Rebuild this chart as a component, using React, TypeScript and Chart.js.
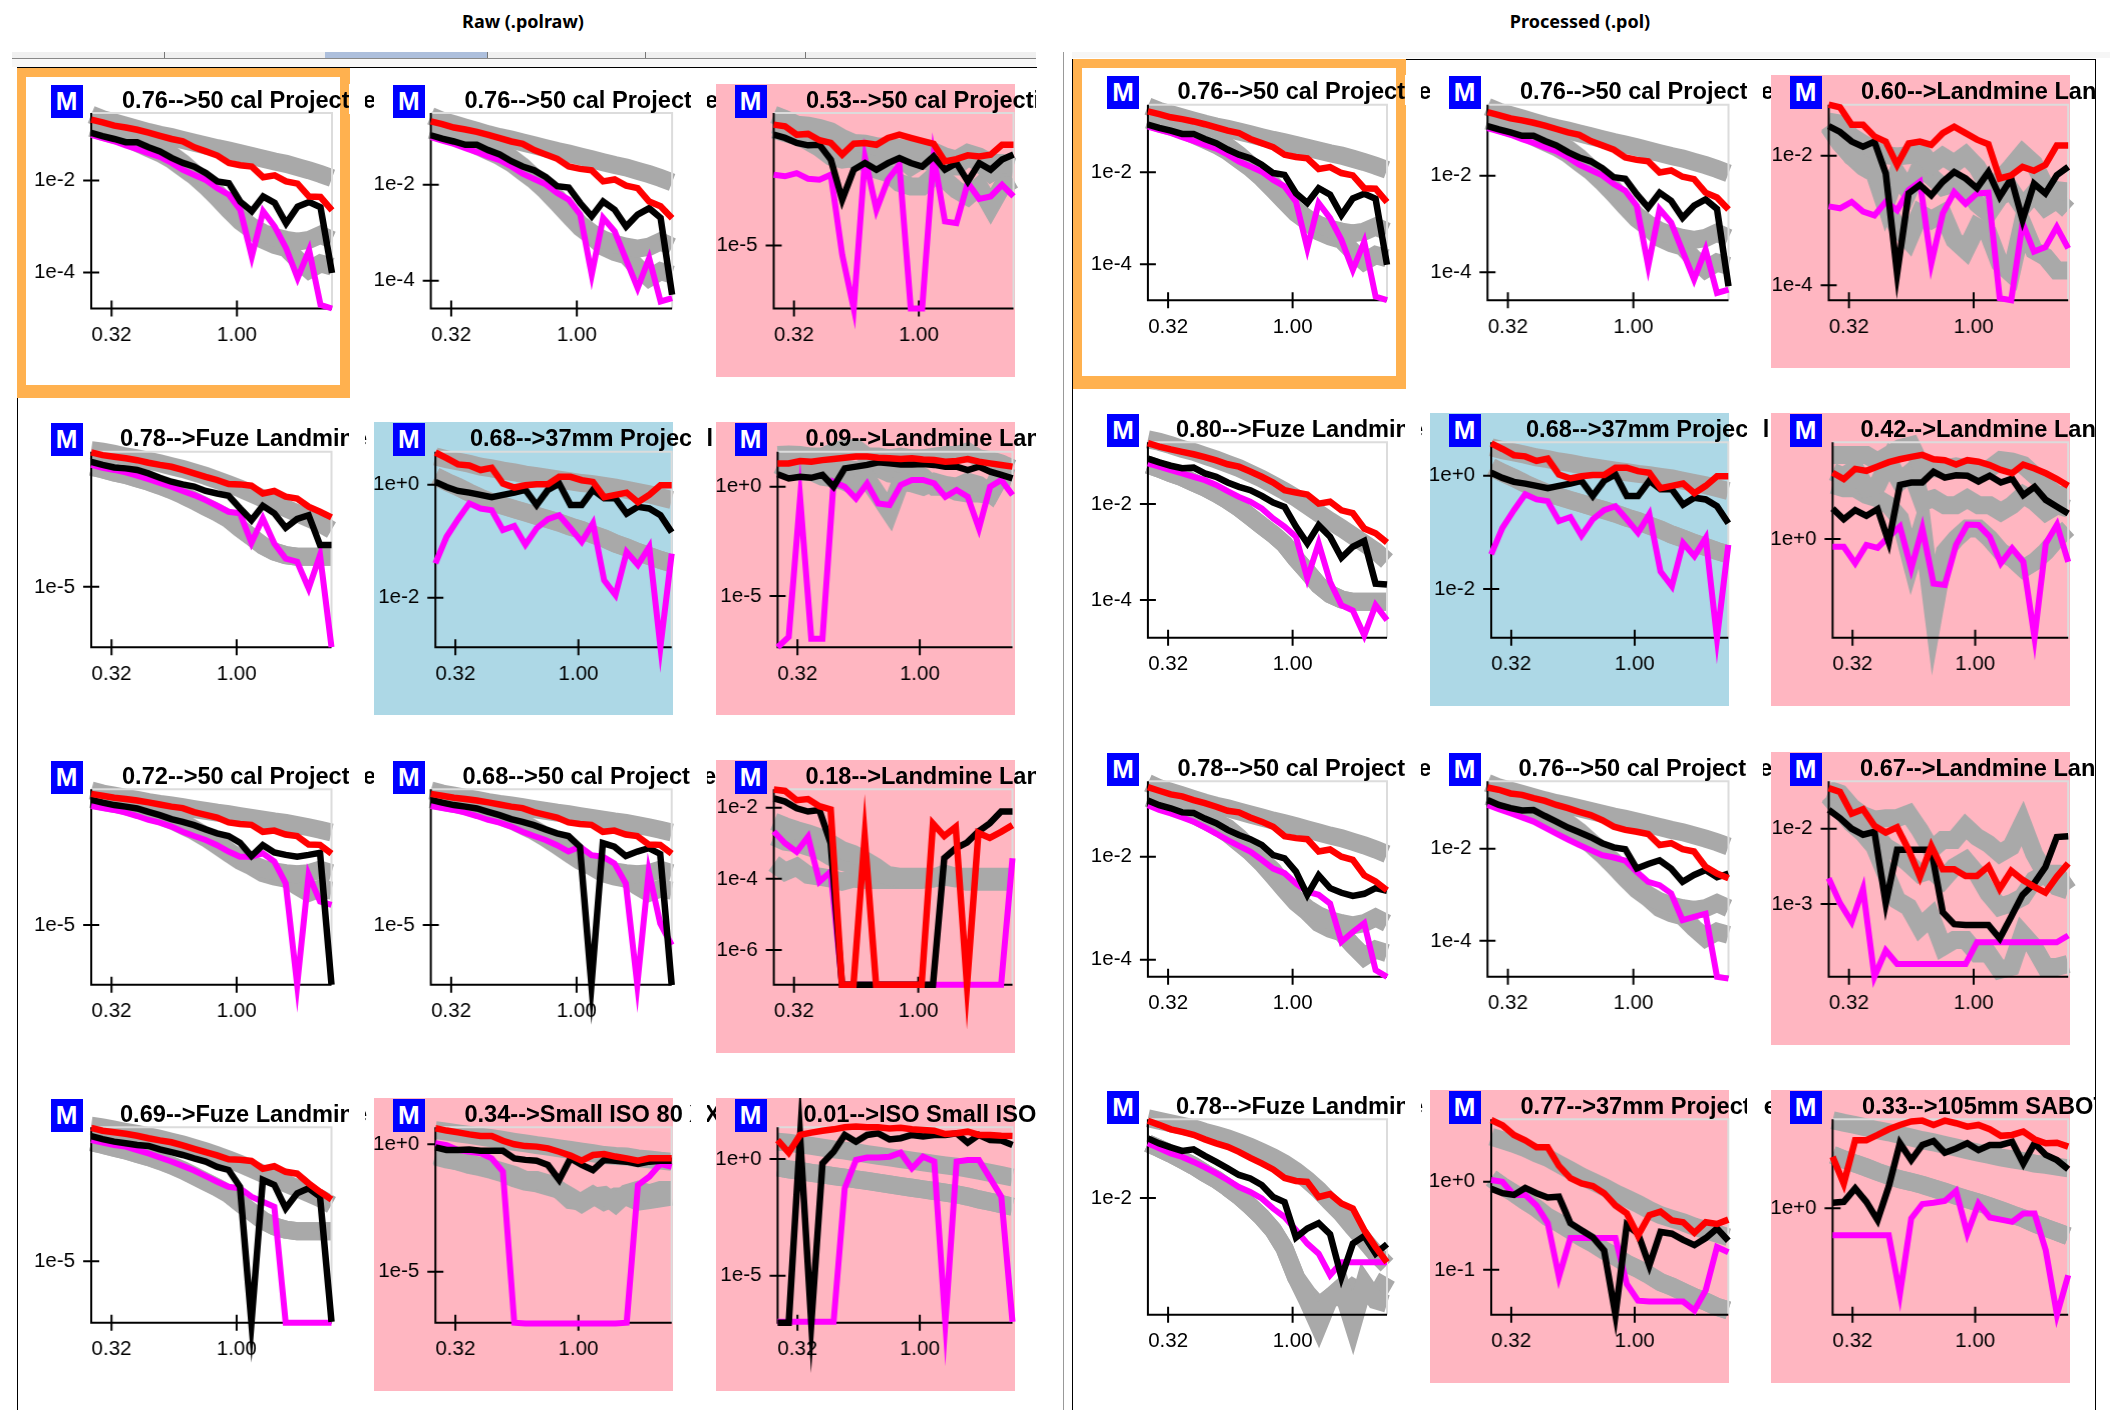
import React, { useEffect, useRef } from "react";
import { Chart, registerables } from "chart.js";
Chart.register(...registerables);

const FREQS = [0.266,0.295,0.328,0.364,0.404,0.448,0.497,0.552,0.612,0.679,0.754,0.837,0.929,1.031,1.144,1.269,1.409,1.563,1.735,1.926,2.137,2.372];

// All series are log10 of the plotted value
const GU50 = [-.57,-.67,-.74,-.81,-.88,-.95,-1.01,-1.06,-1.12,-1.18,-1.24,-1.30,-1.35,-1.41,-1.47,-1.53,-1.59,-1.64,-1.71,-1.78,-1.86,-1.95];
const GA50 = [-.83,-.88,-.96,-1.04,-1.12,-1.22,-1.33,-1.44,-1.62,-1.84,-2.06,-2.27,-2.56,-2.82,-3.0,-3.14,-3.23,-3.29,-3.33,-3.29,-3.18,-3.29];
const GB50 = [-.86,-.94,-1.01,-1.08,-1.19,-1.30,-1.41,-1.55,-1.73,-1.91,-2.13,-2.38,-2.64,-2.89,-3.07,-3.29,-3.40,-3.47,-3.72,-3.94,-3.80,-3.87];
const GUF = [-.65,-.70,-.77,-.85,-.91,-.99,-1.07,-1.16,-1.25,-1.36,-1.47,-1.60,-1.73,-1.87,-2.03,-2.19,-2.35,-2.50,-2.66,-2.82,-2.98,-3.19];
const GLF = [-1.18,-1.26,-1.36,-1.44,-1.55,-1.655,-1.78,-1.92,-2.08,-2.26,-2.45,-2.63,-2.84,-3.14,-3.41,-3.69,-3.88,-3.99,-4.04,-4.04,-4.04,-4.04];
const GU37 = [.50,.45,.41,.37,.32,.29,.25,.22,.18,.15,.12,.09,.06,.03,.01,-.02,-.05,-.09,-.13,-.17,-.22,-.27];
const GL37 = [.15,.05,-.04,-.14,-.23,-.31,-.37,-.43,-.49,-.55,-.61,-.67,-.74,-.80,-.88,-.95,-1.04,-1.11,-1.19,-1.26,-1.33,-1.39];

const L1R = [-.68,-.74,-.81,-.85,-.90,-.96,-1.03,-1.10,-1.15,-1.28,-1.37,-1.46,-1.62,-1.67,-1.70,-1.93,-1.89,-2.02,-2.07,-2.35,-2.36,-2.65];
const L1K = [-.97,-1.04,-1.10,-1.17,-1.17,-1.28,-1.37,-1.51,-1.62,-1.70,-1.84,-2.02,-2.06,-2.46,-2.67,-2.35,-2.49,-2.93,-2.57,-2.47,-2.58,-4.01];
const L1M = [-1.01,-1.08,-1.15,-1.24,-1.32,-1.41,-1.49,-1.62,-1.77,-1.88,-1.99,-2.17,-2.31,-2.64,-3.65,-2.67,-3.0,-3.47,-4.12,-3.51,-4.70,-4.78];
const L2R = [-.68,-.74,-.81,-.85,-.90,-.96,-1.03,-1.10,-1.15,-1.28,-1.37,-1.46,-1.62,-1.67,-1.70,-1.93,-1.89,-2.02,-2.07,-2.35,-2.45,-2.70];
const L2K = [-.97,-1.04,-1.10,-1.17,-1.17,-1.28,-1.37,-1.51,-1.62,-1.70,-1.84,-2.03,-2.06,-2.38,-2.66,-2.35,-2.52,-2.87,-2.62,-2.49,-2.69,-4.29];
const L2M = [-1.01,-1.08,-1.15,-1.24,-1.32,-1.41,-1.49,-1.62,-1.77,-1.88,-1.99,-2.17,-2.31,-2.62,-3.87,-2.69,-2.97,-3.56,-4.15,-3.53,-4.43,-4.36];
const L3R = [-.44,-.50,-.82,-.79,-1.03,-1.13,-1.57,-1.16,-1.13,-1.20,-.94,-.82,-.94,-1.05,-1.16,-1.83,-1.74,-1.60,-1.64,-1.57,-1.20,-1.20];
const L3K = [-.82,-.94,-1.13,-1.22,-1.20,-1.76,-3.27,-2.14,-1.89,-2.14,-1.89,-1.70,-1.89,-2.02,-1.64,-2.14,-1.89,-2.58,-1.89,-2.14,-1.76,-1.57];
const L3M = [-2.33,-2.39,-2.27,-2.48,-2.52,-2.33,-5.35,-7.38,-1.70,-3.65,-2.52,-1.95,-7.38,-7.38,-1.64,-4.09,-4.16,-2.64,-3.24,-3.15,-2.71,-3.15];
const L3GU = [-.06,-.23,-.44,-.48,-.57,-.69,-.94,-1.13,-1.16,-1.26,-1.26,-1.32,-1.39,-1.36,-1.45,-1.64,-1.76,-1.51,-1.64,-1.89,-1.89,-2.02];
const L3GA = [-.44,-.57,-.69,-.88,-1.01,-1.26,-1.51,-1.76,-1.64,-1.89,-1.64,-1.64,-2.02,-1.76,-1.89,-2.02,-2.02,-1.64,-1.89,-2.27,-2.02,-2.08];
const L3GB = [-.63,-.76,-.88,-1.07,-1.32,-1.64,-1.76,-1.70,-1.89,-2.14,-2.27,-2.64,-2.77,-2.77,-2.39,-2.52,-2.90,-3.15,-2.77,-3.53,-2.77,-2.52];
const L4R = [-.72,-.81,-.86,-.91,-.97,-1.05,-1.12,-1.18,-1.28,-1.39,-1.50,-1.60,-1.73,-1.74,-1.78,-2.03,-1.95,-2.13,-2.19,-2.45,-2.61,-2.79];
const L4K = [-1.02,-1.12,-1.20,-1.23,-1.28,-1.39,-1.53,-1.655,-1.74,-1.81,-1.95,-2.03,-2.10,-2.50,-2.88,-2.42,-2.66,-3.12,-2.84,-2.72,-3.67,-3.67];
const L4M = [-1.12,-1.21,-1.28,-1.36,-1.46,-1.57,-1.69,-1.81,-1.95,-2.08,-2.24,-2.42,-2.61,-2.66,-3.60,-2.82,-3.62,-4.10,-4.20,-5.05,-3.99,-6.92];
const L5R = [.57,.47,.36,.34,.26,.30,.02,-.05,-.01,.01,.01,.14,.14,.08,.05,-.22,-.18,-.14,-.31,-.18,-.01,-.01];
const L5K = [.05,-.04,-.11,-.14,-.18,-.22,-.18,-.14,-.09,-.36,-.09,.02,-.36,-.36,-.09,-.24,-.24,-.51,-.39,-.42,-.54,-.84];
const L5M = [-1.39,-.92,-.61,-.33,-.42,-.45,-.80,-.73,-1.06,-.77,-.61,-.54,-.77,-1.01,-.68,-1.69,-1.95,-1.19,-1.42,-1.10,-2.87,-1.22];
const L6R = [1.07,1.07,1.18,1.15,1.22,1.27,1.33,1.38,1.38,1.33,1.30,1.27,1.30,1.25,1.22,1.15,1.18,1.27,1.15,1.07,1.00,.92];
const L6K = [.57,.38,.46,.41,.54,0,.84,.92,1.0,1.12,1.07,1.02,1.02,1.04,1.0,.92,.92,.76,.92,.69,.54,.38];
const L6M = [-7.35,-6.88,-.5,-6.96,-6.96,.23,0,-.54,.15,-.77,-.84,.08,.31,.31,.15,-.46,-.15,-.46,-1.91,0,.31,-.38];
const L6GU = [1.45,1.48,1.45,1.38,1.38,1.61,1.76,1.76,1.38,1.38,1.30,1.38,1.30,1.30,1.38,1.45,1.45,1.61,1.30,1.22,1.07,.84];
const L6GA = [1.0,.76,.69,.69,.46,.38,.23,0,.38,-.38,-1.15,.23,.15,0,.23,.08,0,.23,.08,-.31,.76,.69];
const L6GB = [.84,.84,.92,.84,.84,.69,.84,.76,.76,.84,.61,.54,.69,.46,0,0,-.23,-.31,-.31,-.38,.54,.38];
const L7K = [-.88,-.97,-1.05,-1.10,-1.16,-1.27,-1.38,-1.51,-1.60,-1.71,-1.85,-1.98,-2.07,-2.29,-2.73,-2.37,-2.61,-2.69,-2.75,-2.69,-2.62,-6.97];
const L7M = [-1.08,-1.15,-1.21,-1.30,-1.41,-1.54,-1.63,-1.76,-1.93,-2.07,-2.20,-2.37,-2.58,-2.75,-2.75,-2.64,-2.91,-3.63,-6.97,-3.35,-4.23,-4.34];
const L8K = [-.88,-.97,-1.05,-1.10,-1.16,-1.27,-1.38,-1.51,-1.60,-1.71,-1.85,-1.98,-2.07,-2.42,-6.97,-2.30,-2.42,-2.73,-2.58,-2.47,-2.66,-6.98];
const L8M = [-1.08,-1.15,-1.21,-1.30,-1.41,-1.54,-1.63,-1.76,-1.93,-2.07,-2.20,-2.37,-2.58,-2.42,-2.70,-2.75,-2.97,-3.63,-6.97,-3.24,-4.95,-5.66];
const L9R = [-1.49,-1.53,-1.79,-1.76,-1.96,-2.05,-6.975,-6.975,-2.82,-6.975,-6.975,-6.975,-6.975,-6.975,-2.45,-2.80,-2.54,-6.975,-2.71,-2.85,-2.68,-2.49];
const L9K = [-1.74,-1.83,-2.02,-2.11,-2.07,-3.00,-6.975,-6.975,-6.975,-6.975,-6.975,-6.975,-6.975,-6.975,-6.975,-3.42,-3.14,-2.98,-2.67,-2.44,-2.11,-2.11];
const L9M = [-2.67,-3.00,-3.24,-2.82,-4.08,-3.80,-6.975,-6.975,-6.975,-6.975,-6.975,-6.975,-6.975,-6.975,-6.975,-6.975,-6.975,-6.975,-6.975,-6.975,-6.975,-3.42];
const L9GU = [-2.39,-2.52,-2.63,-2.72,-2.83,-3.0,-3.19,-3.30,-3.47,-3.66,-3.89,-3.94,-3.94,-3.94,-3.94,-3.94,-3.94,-3.94,-3.94,-3.94,-3.94,-3.94];
const L9GA = [-2.82,-2.96,-3.0,-3.10,-3.19,-3.38,-3.52,-3.61,-3.61,-3.75,-3.94,-3.99,-3.99,-3.99,-3.99,-3.94,-3.99,-3.99,-3.99,-3.99,-3.99,-3.99];
const L9GB = [-3.57,-3.80,-3.66,-3.89,-3.94,-3.99,-4.08,-3.99,-4.03,-4.03,-4.03,-4.03,-4.03,-4.03,-3.99,-3.85,-3.94,-4.08,-4.08,-4.08,-4.08,-4.08];
const L10R = [-.72,-.81,-.86,-.91,-.97,-1.05,-1.12,-1.18,-1.28,-1.39,-1.50,-1.60,-1.73,-1.74,-1.78,-2.03,-1.95,-2.13,-2.19,-2.50,-2.77,-3.02];
const L10K = [-.98,-1.08,-1.16,-1.21,-1.27,-1.30,-1.41,-1.50,-1.59,-1.70,-1.80,-1.97,-2.07,-2.61,-6.98,-2.39,-2.55,-3.30,-2.82,-2.66,-2.93,-6.95];
const L10M = [-1.11,-1.19,-1.27,-1.32,-1.43,-1.54,-1.67,-1.80,-1.94,-2.09,-2.27,-2.45,-2.61,-2.66,-2.93,-3.09,-3.25,-6.98,-6.98,-6.98,-6.98,-6.98];
const L11R = [.63,.54,.47,.39,.33,.33,.14,0,-.07,-.09,-.16,-.29,-.44,-.64,-.42,-.38,-.48,-.55,-.64,-.55,-.55,-.55];
const L11K = [-.12,-.22,-.22,-.20,-.25,-.25,-.25,-.55,-.61,-.64,-.81,-1.40,-.55,-.81,-1.01,-.61,-.64,-.68,-.77,-.68,-.64,-.64];
const L11M = [.04,-.03,-.22,-.29,-.35,-.55,-1.07,-7.0,-7.03,-7.03,-7.03,-7.03,-7.03,-7.03,-7.03,-7.03,-7.03,-7.0,-1.60,-1.27,-.77,-.88];
const L11GU = [.56,.50,.43,.37,.30,.24,.17,.10,.04,-.03,-.09,-.16,-.22,-.29,-.35,-.42,-.46,-.48,-.55,-.59,-.64,-.68];
const L11GA = [-.48,-.59,-.67,-.75,-.85,-.94,-1.07,-1.20,-1.40,-1.40,-1.53,-1.79,-2.05,-2.32,-2.05,-1.99,-2.32,-1.92,-1.79,-1.92,-1.79,-1.79];
const L11GB = [-.42,-.55,-.68,-.81,-.90,-1.01,-1.14,-1.33,-1.47,-1.53,-1.66,-1.79,-2.19,-2.25,-1.99,-2.25,-2.05,-2.05,-2.25,-2.19,-2.12,-2.05];
const L12R = [.81,.27,1.03,1.13,1.21,1.27,1.36,1.39,1.36,1.36,1.31,1.34,1.27,1.24,1.21,1.07,1.10,1.17,1.03,1.03,1.00,.99];
const L12K = [-7.01,-7.01,.96,-7.01,-.19,.31,1.03,.74,1.03,1.10,.84,.89,1.03,.96,1.03,1.03,1.10,.70,1.03,.81,.79,.60];
const L12M = [-6.97,-6.97,-6.97,-6.97,-6.97,-6.97,-1.26,-.04,.06,.06,.10,.27,-.40,.10,-.11,-7.01,-.11,-.04,-.04,-.83,-1.61,-6.97];
const L12GU = [.74,.70,.63,.56,.49,.41,.36,.29,.21,.14,.07,0,-.07,-.14,-.21,-.27,-.33,-.41,-.50,-.59,-.69,-.79];
const L12GA = [-.36,-.44,-.51,-.59,-.66,-.73,-.80,-.87,-.94,-1.01,-1.09,-1.16,-1.23,-1.30,-1.37,-1.44,-1.51,-1.61,-1.73,-1.83,-1.93,-2.04];
const R3R = [-1.21,-1.25,-1.52,-1.52,-1.70,-1.78,-2.14,-1.81,-1.78,-1.83,-1.65,-1.55,-1.65,-1.75,-1.82,-2.35,-2.30,-2.17,-2.23,-2.14,-1.84,-1.84];
const R3K = [-1.54,-1.63,-1.78,-1.86,-1.78,-2.27,-3.82,-2.58,-2.45,-2.61,-2.40,-2.25,-2.35,-2.50,-2.25,-2.63,-2.35,-2.99,-2.43,-2.58,-2.30,-2.17];
const R3M = [-2.78,-2.81,-2.71,-2.86,-2.92,-2.71,-2.84,-2.53,-2.40,-3.66,-2.89,-2.56,-2.74,-2.58,-2.57,-4.20,-4.23,-3.04,-3.48,-3.41,-3.10,-3.43];
const R3GU = [-1.47,-1.50,-1.70,-1.81,-1.91,-1.99,-2.01,-1.99,-1.91,-2.14,-2.01,-2.12,-1.99,-2.17,-2.48,-2.37,-2.17,-1.96,-2.12,-2.48,-2.53,-2.55];
const R3GA = [-1.52,-1.76,-2.01,-2.12,-2.17,-2.74,-2.27,-2.55,-2.17,-2.32,-2.48,-2.43,-2.48,-2.74,-2.89,-2.63,-2.53,-2.79,-2.58,-2.79,-2.68,-2.84];
const R3GB = [-1.55,-1.81,-2.01,-2.17,-2.27,-2.79,-3.10,-3.30,-2.89,-2.99,-2.89,-3.30,-3.46,-3.10,-3.20,-3.66,-3.82,-3.04,-3.46,-3.56,-3.77,-3.77];
const R4R = [-.73,-.80,-.86,-.91,-.96,-1.02,-1.09,-1.17,-1.22,-1.32,-1.43,-1.55,-1.71,-1.76,-1.80,-1.99,-1.95,-2.13,-2.19,-2.51,-2.61,-2.80];
const R4K = [-1.05,-1.13,-1.20,-1.25,-1.24,-1.36,-1.43,-1.55,-1.64,-1.71,-1.83,-1.97,-2.06,-2.47,-2.82,-2.44,-2.68,-3.12,-2.89,-2.77,-3.66,-3.68];
const R4M = [-1.15,-1.22,-1.29,-1.36,-1.43,-1.50,-1.60,-1.73,-1.85,-1.95,-2.09,-2.30,-2.47,-2.68,-3.55,-2.82,-3.62,-4.11,-4.22,-4.74,-4.11,-4.42];
const R6R = [1.37,1.24,1.45,1.41,1.50,1.59,1.65,1.70,1.74,1.65,1.63,1.54,1.63,1.60,1.53,1.43,1.36,1.54,1.46,1.36,1.24,1.10];
const R6K = [.63,.41,.60,.48,.62,-.06,1.12,1.17,1.17,1.39,1.27,1.32,1.31,1.19,1.31,1.17,1.25,.91,1.08,.81,.67,.53];
const R6M = [-.16,-.16,-.50,-.12,-.18,.05,.26,-.61,.22,-.92,-.95,-.12,.30,.29,.05,-.50,-.19,-.47,-2.04,-.09,.30,-.47];
const R6GU = [1.74,1.74,1.74,1.74,1.60,1.74,1.88,1.94,1.46,1.46,1.46,1.50,1.46,1.36,1.46,1.63,1.60,1.53,1.32,1.12,.91,.91];
const R6GA = [1.39,1.29,1.46,1.05,1.12,1.60,1.19,1.39,.77,.84,.70,.70,.84,.70,.70,.56,.70,.91,.77,.56,.70,.63];
const R6GB = [1.12,1.05,1.05,.91,.84,.70,.43,-.47,.29,-1.57,-.26,.01,.22,.22,.01,-.26,-.40,-.61,-.47,-.26,.01,.22];
const R7R = [-.65,-.72,-.79,-.83,-.90,-.96,-1.03,-1.11,-1.14,-1.24,-1.32,-1.42,-1.60,-1.64,-1.66,-1.90,-1.86,-2.0,-2.06,-2.36,-2.48,-2.65];
const R7K = [-.91,-1.0,-1.06,-1.14,-1.15,-1.26,-1.35,-1.48,-1.58,-1.66,-1.77,-1.97,-2.03,-2.29,-2.74,-2.36,-2.61,-2.70,-2.76,-2.72,-2.61,-2.66];
const R7M = [-1.0,-1.09,-1.16,-1.24,-1.32,-1.43,-1.55,-1.68,-1.79,-1.90,-2.06,-2.23,-2.32,-2.52,-2.68,-2.74,-2.91,-3.65,-3.46,-3.29,-4.20,-4.33];
const R8R = [-.67,-.72,-.80,-.83,-.90,-.96,-1.05,-1.12,-1.20,-1.27,-1.38,-1.52,-1.59,-1.63,-1.68,-1.92,-1.88,-2.01,-2.06,-2.39,-2.54,-2.64];
const R8K = [-.94,-1.05,-1.12,-1.17,-1.16,-1.29,-1.41,-1.54,-1.64,-1.75,-1.88,-1.97,-2.01,-2.43,-2.33,-2.25,-2.43,-2.72,-2.57,-2.46,-2.62,-2.54];
const R8M = [-1.05,-1.14,-1.23,-1.32,-1.41,-1.54,-1.67,-1.80,-1.92,-2.03,-2.14,-2.19,-2.26,-2.50,-2.72,-2.79,-2.97,-3.55,-3.48,-3.41,-4.78,-4.82];
const R9R = [-1.46,-1.51,-1.80,-1.74,-1.96,-2.05,-1.98,-2.28,-2.64,-2.23,-2.54,-2.54,-2.63,-2.63,-2.50,-2.80,-2.56,-2.68,-2.77,-2.85,-2.64,-2.46];
const R9K = [-1.75,-1.86,-2.0,-2.08,-2.04,-2.99,-2.28,-2.28,-2.28,-2.28,-3.11,-3.27,-3.28,-3.28,-3.28,-3.46,-3.17,-2.88,-2.73,-2.51,-2.11,-2.10];
const R9M = [-2.66,-2.99,-3.24,-2.80,-3.97,-3.62,-3.80,-3.80,-3.80,-3.80,-3.80,-3.80,-3.80,-3.51,-3.51,-3.51,-3.51,-3.51,-3.51,-3.51,-3.51,-3.42];
const R9GU = [-1.48,-1.53,-1.71,-1.82,-1.88,-1.86,-1.86,-1.80,-2.02,-2.28,-2.15,-2.15,-1.97,-2.11,-2.2,-2.33,-2.24,-1.93,-2.33,-2.6,-2.6,-2.82];
const R9GA = [-1.55,-1.71,-1.84,-1.97,-2.06,-2.24,-2.33,-2.46,-2.6,-2.55,-2.68,-2.51,-2.42,-2.6,-2.86,-3.04,-2.99,-2.91,-2.68,-2.6,-2.77,-2.82];
const R9GB = [-1.57,-1.75,-1.93,-2.06,-2.24,-2.6,-2.95,-3.04,-3.31,-3.17,-3.57,-3.48,-3.48,-3.66,-3.66,-3.88,-3.84,-3.4,-3.57,-3.84,-3.84,-3.8];
const R10R = [-.46,-.54,-.63,-.68,-.74,-.83,-.91,-.98,-1.08,-1.20,-1.31,-1.43,-1.60,-1.66,-1.68,-1.98,-1.92,-2.11,-2.21,-2.64,-2.98,-3.28];
const R10K = [-.81,-.91,-.99,-1.06,-1.03,-1.16,-1.28,-1.41,-1.54,-1.61,-1.74,-1.98,-2.08,-2.79,-2.61,-2.50,-2.72,-3.58,-2.91,-2.76,-3.11,-2.92];
const R10M = [-.91,-1.01,-1.11,-1.18,-1.28,-1.39,-1.51,-1.64,-1.78,-1.88,-2.01,-2.21,-2.38,-2.64,-2.91,-3.11,-3.54,-3.28,-3.28,-3.28,-3.28,-3.28];
const R10GU = [-.41,-.46,-.51,-.56,-.61,-.68,-.74,-.81,-.89,-.98,-1.08,-1.19,-1.31,-1.46,-1.64,-1.84,-2.08,-2.31,-2.58,-2.84,-3.11,-3.34];
const R10GA = [-.91,-1.01,-1.12,-1.24,-1.36,-1.50,-1.63,-1.79,-1.96,-2.16,-2.38,-2.64,-3.01,-3.58,-4.04,-4.54,-3.98,-3.78,-4.51,-3.71,-4.04,-4.11];
const R10GB = [-.91,-1.01,-1.12,-1.24,-1.36,-1.50,-1.63,-1.79,-1.96,-2.16,-2.38,-2.64,-3.01,-3.58,-3.90,-4.15,-3.98,-3.98,-3.78,-3.91,-3.98,-3.58];
const R11R = [.70,.64,.53,.47,.39,.39,.18,.04,-.02,-.05,-.13,-.27,-.36,-.61,-.38,-.34,-.44,-.46,-.58,-.46,-.48,-.43];
const R11K = [-.08,-.13,-.15,-.07,-.13,-.18,-.17,-.47,-.55,-.63,-.78,-1.51,-.49,-.59,-.95,-.57,-.59,-.66,-.72,-.64,-.53,-.67];
const R11M = [.02,0,-.15,-.15,-.27,-.47,-1.08,-.64,-.64,-.64,-.64,-.64,-1.16,-1.35,-1.36,-1.36,-1.36,-1.36,-1.46,-1.23,-.74,-.80];
const R11GU = [.51,.47,.43,.38,.32,.27,.20,.13,.06,0,-.06,-.13,-.19,-.25,-.32,-.38,-.42,-.46,-.51,-.55,-.59,-.63];
const R11GA = [.04,-.05,-.13,-.22,-.30,-.40,-.47,-.55,-.63,-.70,-.78,-.85,-.93,-.99,-1.06,-1.14,-1.19,-1.25,-1.31,-1.36,-1.42,-1.46];
const R12R = [1.19,.57,1.57,1.57,1.69,1.82,1.92,2.0,2.02,1.92,2.02,1.96,1.88,1.92,1.82,1.67,1.69,1.77,1.59,1.50,1.51,1.42];
const R12K = [.13,.15,.46,.15,-.27,.50,1.50,1.11,1.46,1.55,1.28,1.38,1.50,1.34,1.46,1.46,1.53,1.03,1.50,1.23,1.11,.90];
const R12M = [-.62,-.62,-.62,-.62,-.62,-.62,-1.97,-.23,.10,.13,.17,.40,-.58,.11,-.21,-.26,-.31,-.12,-.12,-.97,-2.45,-1.54];
const R12GU = [2.03,1.97,1.92,1.86,1.80,1.75,1.69,1.63,1.57,1.52,1.46,1.40,1.34,1.28,1.23,1.17,1.13,1.09,1.03,1.0,.96,.92];
const R12GA = [1.23,1.13,1.03,.94,.84,.75,.67,.61,.54,.46,.38,.29,.21,.13,.05,-.04,-.14,-.23,-.35,-.45,-.54,-.64];

const PINK = "#ffb6c1", BLUE = "#add8e6";
const BG_L = [32, 374.4, 716], BG_R = [1088.5, 1430, 1771];
const TOP_L = [84, 422, 760, 1098], TOP_R = [75, 413, 752, 1090];
const PLOT_L = [113, 451.7, 789.3, 1127.3], PLOT_R = [104.7, 442.3, 781.3, 1119.3];
const P50 = [GU50, GA50, GB50];
const PF = [GUF, GLF, GLF];
const P37 = [GU37, GL37, GL37];

// side, column, row, title, title offset, colour, plot left, plot right, axis top, axis bottom, y ticks, reds, blacks, magentas, greys
const PANELS: any[] = [
  ["L",0,0,"0.76-->50 cal Projectile",90,"",91,331.5,-.536,-4.78,[-2,-4],L1R,L1K,L1M,P50],
  ["L",1,0,"0.76-->50 cal Projectile",90,"",431,672,-.507,-4.576,[-2,-4],L2R,L2K,L2M,P50],
  ["L",2,0,"0.53-->50 cal Projectile",90,PINK,773.5,1013,0,-7.38,[-5],L3R,L3K,L3M,[L3GU,L3GA,L3GB]],
  ["L",0,1,"0.78-->Fuze Landmine",88,"",91,331,-.7,-6.92,[-5],L4R,L4K,L4M,PF],
  ["L",1,1,"0.68-->37mm Project l",95.5,BLUE,435.6,671.6,.584,-2.873,[0,-2],L5R,L5K,L5M,P37],
  ["L",2,1,"0.09-->Landmine Landmine",89.5,PINK,777.4,1012,1.605,-7.35,[0,-5],L6R,L6K,L6M,[L6GU,L6GA,L6GB]],
  ["L",0,2,"0.72-->50 cal Projectile",90,"",91,331,-.53,-6.97,[-5],L1R,L7K,L7M,P50],
  ["L",1,2,"0.68-->50 cal Projectile",88,"",431,671.6,-.53,-6.97,[-5],L1R,L8K,L8M,P50],
  ["L",2,2,"0.18-->Landmine Landmine",89.5,PINK,773.6,1012,-1.485,-6.975,[-2,-4,-6],L9R,L9K,L9M,[L9GU,L9GA,L9GB]],
  ["L",0,3,"0.69-->Fuze Landmine",88,"",91,331,-.7,-6.98,[-5],L10R,L10K,L10M,PF],
  ["L",1,3,"0.34-->Small ISO 80 XX",90,PINK,435.6,671.6,.668,-7.0,[0,-5],L11R,L11K,L11M,[L11GU,L11GA,L11GB]],
  ["L",2,3,"0.01-->ISO Small ISO",87.5,PINK,777.4,1012,1.357,-7.01,[0,-5],L12R,L12K,L12M,[L12GU,L12GA,L12GA]],
  ["R",0,0,"0.76-->50 cal Projectile",89,"",1147.4,1387,-.536,-4.78,[-2,-4],L1R,L1K,L1M,P50],
  ["R",1,0,"0.76-->50 cal Projectile",90,"",1487.3,1728,-.526,-4.58,[-2,-4],L2R,L2K,L2M,P50],
  ["R",2,0,"0.60-->Landmine Landmine",90,PINK,1828.5,2067.7,-1.21,-4.23,[-2,-4],R3R,R3K,R3M,[R3GU,R3GA,R3GB]],
  ["R",0,1,"0.80-->Fuze Landmine",87.5,"",1147.4,1387,-.711,-4.79,[-2,-4],R4R,R4K,R4M,PF],
  ["R",1,1,"0.68-->37mm Project l",96,BLUE,1491,1727.8,.588,-2.86,[0,-2],L5R,L5K,L5M,P37],
  ["R",2,1,"0.42-->Landmine Landmine",89.5,PINK,1832.4,2067.7,2,-2.04,[0],R6R,R6K,R6M,[R6GU,R6GA,R6GB]],
  ["R",0,2,"0.78-->50 cal Projectile",89,"",1147.4,1387,-.537,-4.33,[-2,-4],R7R,R7K,R7M,P50],
  ["R",1,2,"0.76-->50 cal Projectile",88.5,"",1487.3,1728,-.536,-4.78,[-2,-4],R8R,R8K,R8M,P50],
  ["R",2,2,"0.67-->Landmine Landmine",89,PINK,1828.5,2067.7,-1.369,-3.97,[-2,-3],R9R,R9K,R9M,[R9GU,R9GA,R9GB]],
  ["R",0,3,"0.78-->Fuze Landmine",87.5,"",1147.4,1387,-.43,-4.33,[-2],R10R,R10K,R10M,[R10GU,R10GA,R10GB]],
  ["R",1,3,"0.77-->37mm Projectile",90.5,PINK,1491,1727.8,.708,-1.51,[0,-1],R11R,R11K,R11M,[R11GU,R11GA,R11GA]],
  ["R",2,3,"0.33-->105mm SABOT",91,PINK,1832.4,2067.7,2.05,-2.45,[0],R12R,R12K,R12M,[R12GU,R12GA,R12GA]],
];

const W = 298.5, H = 293, EXTRA = 14, PAD_L = 6;
const X_TICKS = [0.32, 1.0];

const axisPlugin = {
  id: "axisMarks",
  beforeDatasetDraw(chart: any, args: any) {
    const ctx = chart.ctx;
    ctx.miterLimit = args.index < 3 ? 20 : 10;
    if (args.index !== 2) return;
    const { left, right, top, bottom } = chart.chartArea;
    ctx.save();
    ctx.lineCap = "butt";
    ctx.lineWidth = 2;
    ctx.strokeStyle = "#dcdcdc";
    ctx.beginPath();
    ctx.moveTo(left, top); ctx.lineTo(right, top); ctx.lineTo(right, bottom);
    ctx.stroke();
    ctx.strokeStyle = "#000";
    ctx.beginPath();
    ctx.moveTo(left, top); ctx.lineTo(left, bottom); ctx.lineTo(right, bottom);
    for (const t of chart.scales.y.ticks) {
      const p = chart.scales.y.getPixelForValue(t.value);
      ctx.moveTo(left - 8, p); ctx.lineTo(left + 8, p);
    }
    for (const t of chart.scales.x.ticks) {
      const p = chart.scales.x.getPixelForValue(t.value);
      ctx.moveTo(p, bottom - 8); ctx.lineTo(p, bottom + 8);
    }
    ctx.stroke();
    ctx.restore();
  },
};

function Panel({ p }: { p: any[] }) {
  const ref = useRef<HTMLCanvasElement>(null);
  const [side, col, row, , , , pl, pr, yTop, yBot, yTicks, red, black, mag, grays] = p;
  const bgX = (side === "L" ? BG_L : BG_R)[col];
  const bgY = (side === "L" ? TOP_L : TOP_R)[row];
  const plotTop = (side === "L" ? PLOT_L : PLOT_R)[row];
  useEffect(() => {
    const pts = (a: number[]) => a.map((e, i) => ({ x: FREQS[i], y: Math.pow(10, e) }));
    const line = (a: number[], c: string, w: number) => ({
      data: pts(a), borderColor: c, borderWidth: w, pointRadius: 0, tension: 0,
      borderJoinStyle: "miter", borderCapStyle: "butt", clip: false, fill: false,
    });
    const font = { family: "'Liberation Sans', Arial, sans-serif", size: 20.5 };
    const chart = new Chart(ref.current as any, {
      type: "line",
      data: {
        datasets: [
          line(red, "#ff0000", 6.5), line(black, "#000000", 6.5), line(mag, "#ff00ff", 6),
          line(grays[0], "#a9a9a9", 18), line(grays[1], "#a9a9a9", 18), line(grays[2], "#a9a9a9", 18),
        ],
      } as any,
      plugins: [axisPlugin],
      options: {
        animation: false, responsive: false, events: [],
        layout: { padding: { top: plotTop - bgY, right: W + EXTRA - (pr - bgX), left: 0, bottom: 0 } },
        plugins: { legend: { display: false }, title: { display: false }, tooltip: { enabled: false } },
        scales: {
          x: {
            type: "logarithmic", min: FREQS[0], max: FREQS[21],
            grid: { display: false }, border: { display: false },
            afterBuildTicks: (s: any) => { s.ticks = X_TICKS.map((value) => ({ value })); },
            afterFit: (s: any) => { s.height = H - (plotTop - bgY) - 195.5; },
            ticks: { font, color: "#000", padding: 6.5, autoSkip: false, maxRotation: 0, callback: (v: any) => Number(v).toFixed(2) },
          },
          y: {
            type: "logarithmic", min: Math.pow(10, yBot), max: Math.pow(10, yTop),
            grid: { display: false }, border: { display: false },
            afterBuildTicks: (s: any) => { s.ticks = yTicks.map((e: number) => ({ value: Math.pow(10, e) })); },
            afterFit: (s: any) => { s.width = pl - bgX + PAD_L; },
            ticks: { font, color: "#000", padding: 8, autoSkip: false, callback: (v: any) => Number(v).toExponential(0) },
          },
        },
      } as any,
    });
    return () => chart.destroy();
  }, []);
  return (
    <canvas ref={ref} width={W + EXTRA + PAD_L} height={H}
      style={{ position: "absolute", left: bgX - PAD_L, top: bgY, width: W + EXTRA + PAD_L, height: H }} />
  );
}

function Abs({ x, y, w, h, c, children, style }: any) {
  return <div style={{ position: "absolute", left: x, top: y, width: w, height: h, background: c, ...style }}>{children}</div>;
}

function PanelBack({ p }: { p: any[] }) {
  const [side, col, row, , , colour] = p;
  const bgX = (side === "L" ? BG_L : BG_R)[col];
  const bgY = (side === "L" ? TOP_L : TOP_R)[row];
  return colour ? <Abs x={bgX} y={bgY} w={W} h={H} c={colour} /> : null;
}

function PanelTop({ p }: { p: any[] }) {
  const [side, col, row, title, tx] = p;
  const cols = side === "L" ? BG_L : BG_R;
  const bgX = cols[col];
  const bgY = (side === "L" ? TOP_L : TOP_R)[row];
  const clipRight = col < 2 ? cols[col + 1] : side === "L" ? 1036 : 2095;
  return (
    <>
      <div style={{
        position: "absolute", left: bgX + tx, top: bgY - 0.5, width: clipRight - bgX - tx, height: 32, overflow: "hidden", whiteSpace: "nowrap",
        font: "bold 23.6px/32px 'Liberation Sans', Arial, sans-serif", color: "#000",
      }}>{title}</div>
      {col < 2 ? <Abs x={bgX + W + 18} y={bgY} w={16} h={30} c="#fff" /> : null}
      <div style={{
        position: "absolute", left: bgX + 18.5, top: bgY + 1, width: 32, height: 33, background: "#0000ff", color: "#fff",
        font: "bold 26px/33px 'Liberation Sans', Arial, sans-serif", textAlign: "center",
      }}>M</div>
    </>
  );
}

export default function App() {
  return (
    <div style={{ position: "absolute", left: 0, top: 0, width: 2110, height: 1424, background: "#fff", overflow: "hidden" }}>
      <div style={{ position: "absolute", left: 523, top: 9, transform: "translateX(-50%)", font: "bold 18px 'Noto Sans', sans-serif", whiteSpace: "nowrap" }}>Raw (.polraw)</div>
      <div style={{ position: "absolute", left: 1580, top: 9, transform: "translateX(-50%)", font: "bold 18px 'Noto Sans', sans-serif", whiteSpace: "nowrap" }}>Processed (.pol)</div>
      <Abs x={12} y={52} w={1024} h={6} c="#f0f0f0" />
      <Abs x={324.6} y={52} w={162} h={6} c="#adbfdc" />
      {[164, 486.7, 645, 804.7].map((x) => <Abs key={x} x={x} y={52} w={1} h={6} c="#777" />)}
      <Abs x={12} y={58} w={1024} h={1} c="#888" />
      <Abs x={12} y={59} w={1024} h={8} c="#f8f8f8" />
      <Abs x={1072} y={52} w={1038} h={6} c="#f6f6f6" />
      <Abs x={1063} y={52} w={1} h={1358} c="#999" />
      <Abs x={16.5} y={67} w={1020} h={1} c="#000" />
      <Abs x={16.5} y={67} w={1} h={1343} c="#000" />
      <Abs x={1072} y={58.5} w={1023} h={1} c="#000" />
      <Abs x={1072} y={58.5} w={1} h={1351} c="#000" />
      <Abs x={2095} y={58.5} w={1} h={1351} c="#000" />
      {PANELS.map((p, i) => <PanelBack key={i} p={p} />)}
      <div style={{ position: "absolute", left: 17, top: 68, width: 333, height: 330, boxSizing: "border-box", borderStyle: "solid", borderColor: "#ffb14f", borderWidth: "9px 10px 13px 9px" }} />
      <div style={{ position: "absolute", left: 1073, top: 59, width: 333, height: 330, boxSizing: "border-box", borderStyle: "solid", borderColor: "#ffb14f", borderWidth: "9px 10px 13px 9px" }} />
      {PANELS.map((p, i) => <Panel key={i} p={p} />)}
      {PANELS.map((p, i) => <PanelTop key={i} p={p} />)}
    </div>
  );
}
